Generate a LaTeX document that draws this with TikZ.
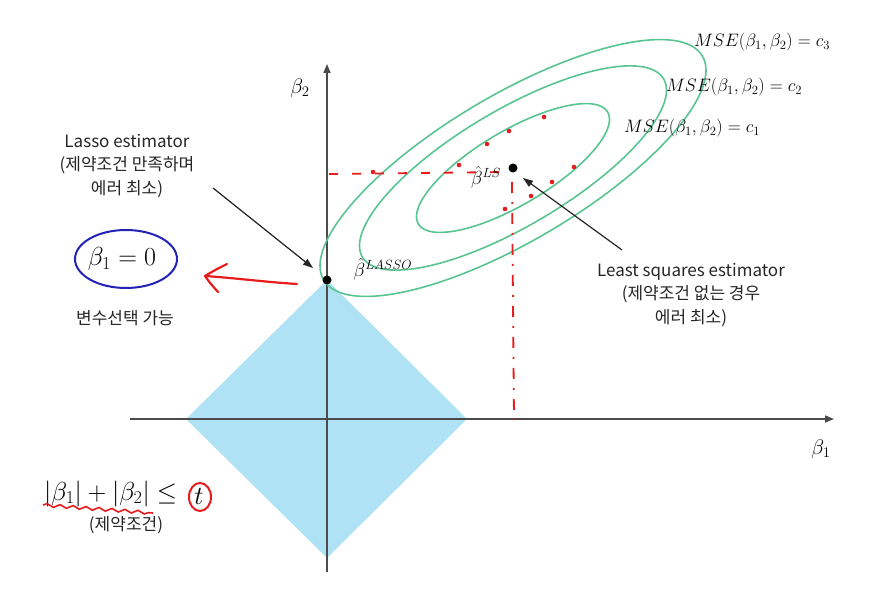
\documentclass[tikz,border=0pt]{standalone}
\usepackage{fix-cm}
\usepackage[no-math]{fontspec}
\setmainfont{Noto Sans CJK KR}
\usetikzlibrary{arrows.meta,decorations.pathmorphing}
\definecolor{ellgreen}{RGB}{88,196,146}
\definecolor{diamblue}{RGB}{176,226,246}
\definecolor{penred}{RGB}{232,28,28}
\definecolor{penblue}{RGB}{35,35,185}
\definecolor{txt}{RGB}{38,38,38}
\definecolor{axisgray}{RGB}{75,75,75}
\begin{document}
\begin{tikzpicture}[x=1pt,y=-1pt,
  axisline/.style={draw=axisgray, line width=1.6pt, -{Triangle[length=9pt,width=7pt]}},
  pointer/.style={draw=txt, line width=1.2pt, -{Triangle[length=10pt,width=7pt]}},
  ell/.style={draw=ellgreen, line width=1.6pt},
  pen/.style={draw=penred, line width=2.2pt, line cap=round, line join=round},
  lbl/.style={text=txt, font=\fontsize{17}{23.5}\selectfont, align=center, inner sep=0pt},
  mathlbl/.style={text=black, font=\fontsize{18}{20}\selectfont, inner sep=0pt},
  dot/.style={circle, fill=black, inner sep=0pt, minimum size=9pt},
  reddot/.style={fill=penred}
]
\useasboundingbox (0,0) rectangle (872,601);
% constraint region
\fill[diamblue] (327,280) -- (467,419) -- (327,558) -- (186,419) -- cycle;
% axes
\coordinate (xs) at (130,419);
\coordinate (xe) at (834,419);
\coordinate (ys) at (327,572);
\coordinate (ye) at (327,64);
\draw[axisline] (xs) -- (xe);
\draw[axisline] (ys) -- (ye);
\node[mathlbl, font=\fontsize{21}{22}\selectfont] (b1) at (821,449) {$\beta_1$};
\node[mathlbl, font=\fontsize{21}{22}\selectfont] (b2) at (300,88) {$\beta_2$};
% points
\coordinate (ls) at (513,168);
\coordinate (lasso) at (327,280);
% contours
\draw[ell, rotate around={30.6:(ls)}] (ls) ellipse[x radius=220pt, y radius=73pt];
\draw[ell, rotate around={30.6:(ls)}] (ls) ellipse[x radius=175pt, y radius=58pt];
\draw[ell, rotate around={30.6:(ls)}] (ls) ellipse[x radius=110pt, y radius=37pt];
% red hand marks
\coordinate (hs) at (329,174);
\coordinate (he) at (506,172);
\draw[penred, line width=1.8pt, dash pattern=on 9pt off 14pt] (hs) -- (he);
\coordinate (vs) at (512,182);
\coordinate (ve) at (514,420);
\draw[penred, line width=1.8pt, dash pattern=on 11pt off 9pt on 2pt off 9pt] (vs) -- (ve);
\foreach \p in {(544,117),(509,131),(487,144),(459,165),(574,167),(552,182),(531,196),(505,209),(373,172)}
  \fill[reddot] \p circle[radius=2.3pt];
\node[dot] (lsdot) at (ls) {};
\node[dot] (lassodot) at (lasso) {};
\node[mathlbl, font=\fontsize{19}{21}\selectfont] (lslbl) at (486,177) {$\hat{\beta}^{LS}$};
\node[mathlbl, font=\fontsize{19}{21}\selectfont] (lassolbl) at (383,269) {$\hat{\beta}^{LASSO}$};
% MSE labels
\node[mathlbl] (c3) at (762,42) {$MSE(\beta_1,\beta_2)=c_3$};
\node[mathlbl] (c2) at (734,87) {$MSE(\beta_1,\beta_2)=c_2$};
\node[mathlbl] (c1) at (692,128) {$MSE(\beta_1,\beta_2)=c_1$};
% left annotations
\node[lbl] (lassotxt) at (127,166) {Lasso estimator\\(제약조건 만족하며\\에러 최소)};
\coordinate (a1s) at (213,188);
\coordinate (a1e) at (313,268);
\draw[pointer] (a1s) -- (a1e);
\node[lbl] (lstxt) at (691,295) {Least squares estimator\\(제약조건 없는 경우\\에러 최소)};
\coordinate (a2s) at (622,250);
\coordinate (a2e) at (523,178);
\draw[pointer] (a2s) -- (a2e);
% beta1 = 0
\node[text=black, font=\fontsize{26}{28}\selectfont, inner sep=0pt] (zero) at (122,259) {$\beta_1=0$};
\draw[draw=penblue, line width=2pt] (126,259) ellipse[x radius=51pt, y radius=29pt];
\node[lbl] (selt) at (125,318) {변수선택 가능};
% red arrow
\coordinate (ra) at (297,284);
\coordinate (rb) at (205,276);
\coordinate (rc) at (227,264);
\coordinate (rd) at (218,292);
\draw[pen] (ra) .. controls (265,282) and (235,278) .. (rb);
\draw[pen] (rc) .. controls (215,270) .. (rb) .. controls (210,283) .. (rd);
% constraint formula
\node[text=black, font=\fontsize{26}{28}\selectfont, inner sep=0pt, anchor=base west] (form) at (44,500) {$|\beta_1|+|\beta_2|\leq$};
\node[text=black, font=\fontsize{26}{28}\selectfont, inner sep=0pt, anchor=base] (tt) at (199,504) {$t$};
\draw[penred, line width=1.6pt, decorate, decoration={snake, amplitude=1.6pt, segment length=13pt}] (43,505) -- (153,513);
\coordinate (tc) at (200,497);
\draw[penred, line width=2pt] (tc) ellipse[x radius=11pt, y radius=14pt];
\node[lbl] (cons) at (126,525) {(제약조건)};
\end{tikzpicture}
\end{document}
